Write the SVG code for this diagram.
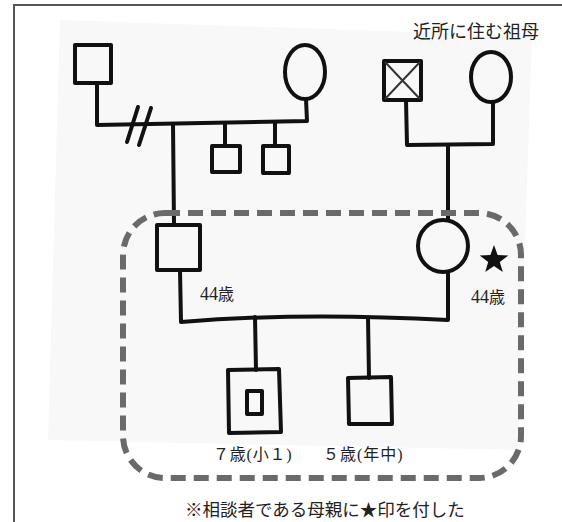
<svg xmlns="http://www.w3.org/2000/svg" width="562" height="522" viewBox="0 0 562 522">
<style>
.ln{fill:none;stroke:#111;stroke-width:4;stroke-linejoin:round;stroke-linecap:round}
.nd{fill:none;stroke:#111;stroke-width:4;stroke-linejoin:round}
.t{font-family:"Liberation Serif","Noto Sans CJK JP",serif;fill:#222}
</style>
<rect width="562" height="522" fill="#fff"/>
<polygon points="60,20 532,36 518,450 48,440" fill="#f8f8f8"/>
<path d="M14,522 L14,5 L562,5" fill="none" stroke="#555" stroke-width="2"/>
<g id="connectors">
<path class="ln" d="M97,83 L97,125 L307,121 L306,99"/>
<path class="ln" d="M127,142 L138,107 M139,145 L151,108"/>
<path class="ln" d="M173,124 L174,225"/>
<path class="ln" d="M225,123 L225,146"/>
<path class="ln" d="M275,122 L275,146"/>
<path class="ln" d="M406,100 L407,145 L493,144 L493,102"/>
<path class="ln" d="M448,145 L448,220"/>
<path class="ln" d="M180,270 L181,322 Q300,312 448,320 L448,272"/>
<path class="ln" d="M255,317 L256,370"/>
<path class="ln" d="M368,318 L369,378"/>
</g>
<g id="pgf"><rect class="nd" x="75" y="45" width="36" height="38"/></g>
<g id="pgm"><ellipse class="nd" cx="305" cy="72" rx="20" ry="27"/></g>
<g id="hs1"><rect class="nd" x="212" y="146" width="28" height="26"/></g>
<g id="hs2"><rect class="nd" x="263" y="146" width="26" height="27"/></g>
<g id="mgf"><rect class="nd" x="384" y="61" width="37" height="39"/><path d="M385,62 L420,99 M420,62 L385,99" stroke="#333" stroke-width="2" fill="none"/></g>
<g id="mgm"><ellipse class="nd" cx="491" cy="77" rx="20" ry="25"/><text class="t" x="413" y="38" font-size="18">近所に住む祖母</text></g>
<g id="father"><rect class="nd" x="157" y="225" width="43" height="45"/><text class="t" x="200" y="300" font-size="16"><tspan font-size="18">44</tspan>歳</text></g>
<g id="mother"><ellipse class="nd" cx="443" cy="246" rx="25" ry="26"/>
<polygon points="494,245 497.6,255.1 508.3,255.4 499.8,261.9 502.8,272.1 494,266 485.2,272.1 488.2,261.9 479.7,255.4 490.4,255.1" fill="#111"/>
<text class="t" x="471" y="303" font-size="16"><tspan font-size="18">44</tspan>歳</text></g>
<g id="child1"><path class="nd" d="M228,370 L279,369 L281,432 L229,433 Z"/><rect class="nd" x="247" y="391" width="15" height="23"/><text class="t" x="213" y="460" font-size="16" letter-spacing="0.8">７歳(小１)</text></g>
<g id="child2"><path class="nd" d="M348,378 L391,377 L392,424 L349,424 Z"/><text class="t" x="323" y="460" font-size="16" letter-spacing="1">５歳(年中)</text></g>
<rect x="123" y="213" width="398" height="265" rx="42" fill="none" stroke="#6a6a6a" stroke-width="6" stroke-dasharray="15 8"/>
<text class="t" x="185" y="516" font-size="17.5">※相談者である母親に★印を付した</text>
</svg>
